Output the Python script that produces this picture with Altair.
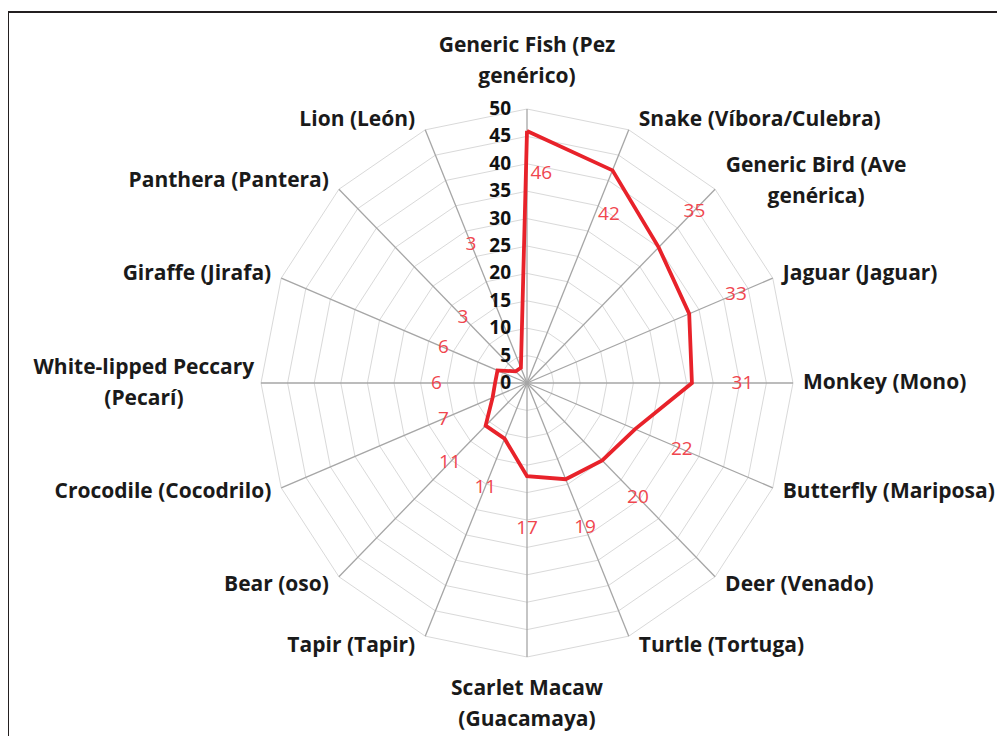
import altair as alt
import pandas as pd
import numpy as np

# ---------------- data ----------------
categories = [
    "Generic Fish (Pez\ngenérico)",
    "Snake (Víbora/Culebra)",
    "Generic Bird (Ave\ngenérica)",
    "Jaguar (Jaguar)",
    "Monkey (Mono)",
    "Butterfly (Mariposa)",
    "Deer (Venado)",
    "Turtle (Tortuga)",
    "Scarlet Macaw\n(Guacamaya)",
    "Tapir (Tapir)",
    "Bear (oso)",
    "Crocodile (Cocodrilo)",
    "White-lipped Peccary\n(Pecarí)",
    "Giraffe (Jirafa)",
    "Panthera (Pantera)",
    "Lion (León)",
]
values = [46, 42, 35, 33, 31, 22, 20, 19, 17, 11, 11, 7, 6, 6, 3, 3]
ring_levels = [5, 10, 15, 20, 25, 30, 35, 40, 45, 50]
tick_labels = [0, 5, 10, 15, 20, 25, 30, 35, 40, 45, 50]

# ---------------- layout ----------------
W, H = 989, 728
CX, CY = 519, 375          # centre of the radar in plot pixels
KX, KY = 5.32, 5.48        # pixels per unit
RMAX = 50
FS = 21                    # category font size
LH = 31                    # line height
FONT = "Open Sans"

x_dom = [-CX / KX, (W - CX) / KX]
y_dom = [-(H - CY) / KY, CY / KY]

n = len(categories)
ang = np.arange(n) * 2 * np.pi / n

# rings
ring_rows = []
for lvl in ring_levels:
    for j in range(n + 1):
        a = ang[j % n]
        ring_rows.append({"level": lvl, "j": j, "x": lvl * np.sin(a), "y": lvl * np.cos(a)})
rings_df = pd.DataFrame(ring_rows)

# spokes
spokes_df = pd.DataFrame({
    "x": np.zeros(n), "y": np.zeros(n),
    "x2": RMAX * np.sin(ang), "y2": RMAX * np.cos(ang),
})

# data polygon
line_rows = []
for j in range(n + 1):
    i = j % n
    line_rows.append({"j": j, "x": values[i] * np.sin(ang[i]), "y": values[i] * np.cos(ang[i])})
line_df = pd.DataFrame(line_rows)

# value labels (pushed outward along the spoke, kept clear of the tick-label column)
vl_rows = []
for i, v in enumerate(values):
    if v <= 40:
        r, a = max(v + 9.5, 17), ang[i]
    else:
        r, a = v - 7.5, ang[i] + np.radians(4)
    s, c = np.sin(a), np.cos(a)
    if c > 0 and s < 0:
        while -55 < r * s * KX < 0 and r < RMAX:
            r += 0.5
    vl_rows.append({"x": r * s, "y": r * c, "label": str(v)})
vl_df = pd.DataFrame(vl_rows)

# tick labels
tick_df = pd.DataFrame({
    "x": [-16 / KX] * len(tick_labels),
    "y": tick_labels,
    "label": [str(t) for t in tick_labels],
})

# category labels
cat_rows = []
for i, txt in enumerate(categories):
    s, c = np.sin(ang[i]), np.cos(ang[i])
    ex, ey = RMAX * s, RMAX * c
    lines = txt.split("\n")
    block_shift = (len(lines) - 1) * LH / 2      # first line sits above the block centre
    if abs(s) < 0.01:
        half = (len(lines) - 1) * LH / 2 + FS * 0.62
        x = ex
        yc = ey + np.sign(c) * (half + 19) / KY
        al = "center"
    else:
        side = np.sign(s)
        yc = ey + c * 11 / KY
        if len(lines) == 1:
            x = ex + side * 10 / KX
            al = "left" if side > 0 else "right"
        else:
            est_w = max(len(l) for l in lines) * 0.51 * FS
            x = ex + side * (10 + est_w / 2) / KX
            al = "center"
    y = yc + block_shift / KY
    cat_rows.append({"x": x, "y": y, "label": txt, "align": al})
cat_df = pd.DataFrame(cat_rows)

# ---------------- chart ----------------
X = alt.X("x:Q", scale=alt.Scale(domain=x_dom, nice=False, zero=False), axis=None)
Y = alt.Y("y:Q", scale=alt.Scale(domain=y_dom, nice=False, zero=False), axis=None)

frame = alt.Chart(pd.DataFrame({"a": [0]})).mark_rect(
    fillOpacity=0, stroke="#231f20", strokeWidth=2
).encode(x=alt.value(0), x2=alt.value(1020), y=alt.value(4), y2=alt.value(820))

rings = alt.Chart(rings_df).mark_line(color="#d9d9d9", strokeWidth=1).encode(
    x=X, y=Y, detail="level:N", order="j:Q"
)

spokes = alt.Chart(spokes_df).mark_rule(color="#a6a6a6", strokeWidth=1.3).encode(
    x=X, y=Y, x2="x2:Q", y2="y2:Q"
)

series = alt.Chart(line_df).mark_line(
    color="#e8222a", strokeWidth=3.8, strokeJoin="miter"
).encode(x=X, y=Y, order="j:Q")

val_labels = alt.Chart(vl_df).mark_text(
    color="#f0464e", fontSize=19, font=FONT, baseline="middle", align="center"
).encode(x=X, y=Y, text="label:N")

ticks = alt.Chart(tick_df).mark_text(
    color="#111111", fontSize=19, font=FONT, fontWeight="bold", align="right", baseline="middle"
).encode(x=X, y=Y, text="label:N")

cat_layers = []
for al in ["left", "right", "center"]:
    cat_layers.append(
        alt.Chart(cat_df).transform_filter(alt.datum.align == al).mark_text(
            color="#1a1a1a", fontSize=FS, font=FONT, fontWeight="bold",
            align=al, baseline="middle", lineBreak="\n", lineHeight=LH
        ).encode(x=X, y=Y, text="label:N")
    )

chart = alt.layer(frame, rings, spokes, series, val_labels, ticks, *cat_layers).properties(
    width=W, height=H, padding=0, autosize=alt.AutoSizeParams(type="none")
).configure_view(strokeWidth=0)

chart.save("out.html", embed_options={"renderer": "svg", "actions": False})
